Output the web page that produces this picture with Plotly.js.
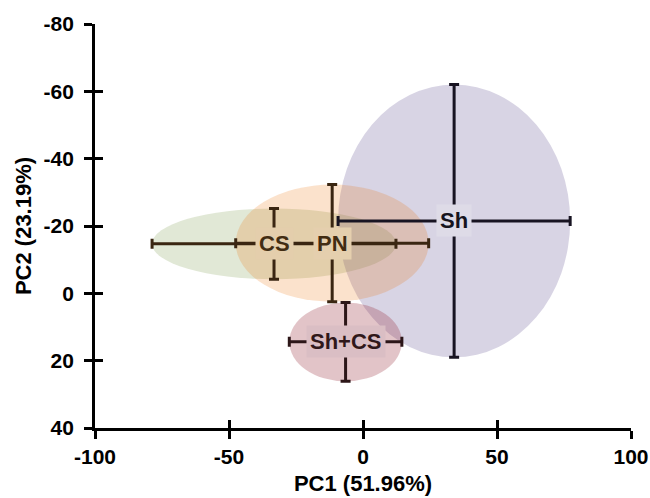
<!DOCTYPE html>
<html>
<head>
<meta charset="utf-8">
<script src="https://cdn.plot.ly/plotly-3.0.1.min.js"></script>
<style>
  html, body { margin: 0; padding: 0; background: #fff; }
  #chart { width: 650px; height: 498px; }
</style>
</head>
<body>
<div id="chart"></div>
<script>
// ---- data ----
const groups  = ['CS', 'PN', 'Sh', 'Sh+CS'];
const pc1     = [-33.2, -11.5, 34.0, -6.5];
const pc2     = [-14.7, -14.9, -21.5, 14.4];
const pc1Err  = [45.5, 36.0, 43.3, 21.0];
const pc2Err  = [10.5, 17.4, 40.5, 11.7];
const xTickVals = [-100, -50, 0, 50, 100];
const xTickText = ['-100', '-50', '0', '50', '100'];
const yTickVals = [-80, -60, -40, -20, 0, 20, 40];
const yTickText = ['-80', '-60', '-40', '-20', '0', '20', '40'];

// ---- styles ----
const fillColors = ['rgba(135,163,91,0.25)', 'rgba(235,110,0,0.2)', 'rgba(99,83,147,0.25)', 'rgba(139,19,35,0.25)'];
const drawOrder  = [0, 2, 1, 3];   // CS, Sh, PN, Sh+CS (ellipse stacking)
const barColors  = ['rgb(58,38,18)', 'rgb(58,38,18)', 'rgb(24,20,34)', 'rgb(44,22,24)'];
const textColors = ['rgb(66,44,18)', 'rgb(66,44,18)', 'rgb(22,20,30)', 'rgb(48,24,26)'];
const boxColors  = ['rgb(228,206,172)', 'rgb(229,207,174)', 'rgb(222,219,231)', 'rgb(218,190,196)'];
const FONT = 'Liberation Sans, Arial, sans-serif';
const LABEL_GAP = '\u00a0';

const traces = groups.map((g, i) => ({
  type: 'scatter', mode: 'markers', name: g,
  x: [pc1[i]], y: [pc2[i]],
  marker: { size: 1, color: 'rgba(0,0,0,0)' },
  error_x: { type: 'data', array: [pc1Err[i]], symmetric: true, color: barColors[i], thickness: 3, width: 5 },
  error_y: { type: 'data', array: [pc2Err[i]], symmetric: true, color: barColors[i], thickness: 3, width: 5 },
  hoverinfo: 'skip', showlegend: false
}));
// dummy trace for overlay axes (inside ticks so ticks cross the axis line)
traces.push({ type: 'scatter', mode: 'markers', x: [0], y: [0], xaxis: 'x2', yaxis: 'y2',
  marker: { size: 1, color: 'rgba(0,0,0,0)' }, hoverinfo: 'skip', showlegend: false });

const shapes = drawOrder.map(i => ({
  type: 'circle', xref: 'x', yref: 'y', layer: 'below',
  x0: pc1[i] - pc1Err[i], x1: pc1[i] + pc1Err[i],
  y0: pc2[i] - pc2Err[i], y1: pc2[i] + pc2Err[i],
  fillcolor: fillColors[i], line: { width: 0 }
}));

const annotations = groups.map((g, i) => ({
  x: pc1[i], y: pc2[i], xref: 'x', yref: 'y', showarrow: false,
  text: '<b>' + g + '</b>',
  font: { family: FONT, size: 22, color: textColors[i] },
  bgcolor: boxColors[i], borderpad: 3
}));

const axisCommon = {
  showgrid: false, zeroline: false, showline: true, linecolor: '#000', linewidth: 3,
  ticks: 'outside', ticklen: 8, tickwidth: 3, tickcolor: '#000',
  tickfont: { family: FONT, size: 21, color: '#000', weight: 'bold' },
  tickmode: 'array'
};

const layout = {
  width: 650, height: 498,
  margin: { l: 95, r: 19, t: 24, b: 70 },
  paper_bgcolor: '#fff', plot_bgcolor: '#fff',
  showlegend: false,
  xaxis: Object.assign({}, axisCommon, {
    range: [-100, 100], tickvals: xTickVals, ticktext: xTickText,
    title: { text: '<b>PC1 (51.96%)</b>', font: { family: FONT, size: 22, color: '#000' }, standoff: 9 }
  }),
  yaxis: Object.assign({}, axisCommon, {
    range: [40, -80], tickvals: yTickVals, ticktext: yTickText.map(t => t + LABEL_GAP),
    title: { text: '<b>PC2 (23.19%)</b>', font: { family: FONT, size: 22, color: '#000' }, standoff: 6 }
  }),
  xaxis2: {
    overlaying: 'x', anchor: 'y2', side: 'bottom', range: [-100, 100],
    showgrid: false, zeroline: false, showline: false, showticklabels: false,
    ticks: 'inside', ticklen: 8, tickwidth: 3, tickcolor: '#000',
    tickmode: 'array', tickvals: xTickVals
  },
  yaxis2: {
    overlaying: 'y', anchor: 'x2', side: 'left', range: [40, -80],
    showgrid: false, zeroline: false, showline: false, showticklabels: false,
    ticks: 'inside', ticklen: 8, tickwidth: 3, tickcolor: '#000',
    tickmode: 'array', tickvals: yTickVals
  },
  shapes: shapes,
  annotations: annotations
};

Plotly.newPlot('chart', traces, layout, { staticPlot: true, displayModeBar: false });
</script>
</body>
</html>
